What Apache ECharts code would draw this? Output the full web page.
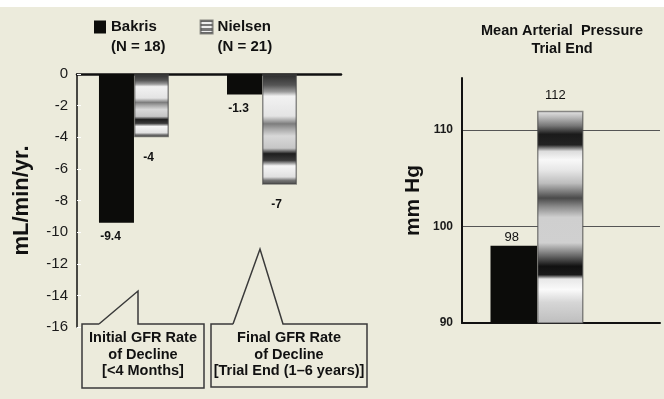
<!DOCTYPE html>
<html><head><meta charset="utf-8">
<script src="https://cdn.jsdelivr.net/npm/echarts@6/dist/echarts.min.js"></script>
<style>html,body{margin:0;padding:0;background:#fff}#c{width:664px;height:399px}</style>
</head><body><div id="c"></div>
<script>
// ---- data ----
const seriesNames = ['Bakris', 'Nielsen'];
const sampleSizes = [18, 21];
const gfrGroups = ['Initial GFR Rate of Decline', 'Final GFR Rate of Decline'];
const bakrisGFR = [-9.4, -1.3];
const nielsenGFR = [-4, -7];
const mapGroups = ['Trial End'];
const bakrisMAP = [98];
const nielsenMAP = [112];
const gfrAxis = { min: -16, max: 0, interval: 2 };
const mapAxis = { min: 90, max: 115.4, interval: 10 };
const calloutLines = [
  ['Initial GFR Rate', 'of Decline', '[<4 Months]'],
  ['Final GFR Rate', 'of Decline', '[Trial End (1\u20136 years)]']
];

// ---- styles ----
const FONT = '"Liberation Sans", Arial, sans-serif';
const BG = '#ECEBDC';
function grad(stops) {
  return new echarts.graphic.LinearGradient(0, 0, 0, 1, stops.map(s => ({ offset: s[0], color: s[1] })));
}
const metalLeft = grad([[0,'#2a2a2a'],[0.1,'#555'],[0.16,'#9a9a9a'],[0.2,'#f2f2f2'],[0.38,'#e4e4e4'],[0.45,'#7d7d7d'],[0.5,'#aaa'],[0.56,'#d8d8d8'],[0.67,'#c6c6c6'],[0.72,'#1e1e1e'],[0.78,'#3a3a3a'],[0.83,'#f6f6f6'],[0.93,'#e0e0e0'],[0.96,'#777'],[1,'#444']]);
const metalRight = grad([[0,'#e8e8e8'],[0.03,'#bbb'],[0.07,'#777'],[0.11,'#1a1a1a'],[0.16,'#222'],[0.19,'#dcdcdc'],[0.23,'#f8f8f8'],[0.28,'#e6e6e6'],[0.34,'#bdbdbd'],[0.41,'#4a4a4a'],[0.45,'#8a8a8a'],[0.5,'#cfcfcf'],[0.62,'#d0d0d0'],[0.68,'#6a6a6a'],[0.73,'#111'],[0.77,'#1a1a1a'],[0.79,'#e8e8e8'],[0.84,'#fafafa'],[0.9,'#d6d6d6'],[1,'#bdbdbd']]);
const stripes = grad([[0,'#777'],[0.18,'#777'],[0.18,'#eee'],[0.28,'#eee'],[0.28,'#777'],[0.46,'#777'],[0.46,'#eee'],[0.56,'#eee'],[0.56,'#777'],[0.74,'#777'],[0.74,'#eee'],[0.84,'#eee'],[0.84,'#777'],[1,'#777']]);
const BLACK = '#0c0c0a';

const chart = echarts.init(document.getElementById('c'), null, { renderer: 'canvas' });

const option = {
  backgroundColor: BG,
  textStyle: { fontFamily: FONT },
  animation: false,
  title: {
    text: 'Mean Arterial  Pressure\nTrial End',
    left: 562, top: 22, padding: 0, textAlign: 'center',
    textStyle: { fontFamily: FONT, fontSize: 14.5, fontWeight: 'bold', color: '#111', lineHeight: 18 }
  },
  legend: {
    data: [
      { name: seriesNames[0], itemStyle: { color: BLACK } },
      { name: seriesNames[1], itemStyle: { color: stripes } }
    ],
    left: 94, top: -3, padding: 0, itemGap: 34, itemWidth: 12, itemHeight: 13, icon: 'rect',
    formatter: name => '\n' + name + '\n(N = ' + sampleSizes[seriesNames.indexOf(name)] + ')',
    textStyle: { fontFamily: FONT, fontSize: 15, fontWeight: 'bold', color: '#111', lineHeight: 20 }
  },
  grid: [
    { left: 77, top: 74, width: 264, height: 253 },
    { left: 462, top: 78, width: 198, height: 245 }
  ],
  xAxis: [
    { gridIndex: 0, type: 'value', position: 'top', min: -0.445, max: 1.617,
      axisLine: { show: true, onZero: true, lineStyle: { color: '#111', width: 2.5 } },
      axisTick: { show: false }, axisLabel: { show: false }, splitLine: { show: false } },
    { gridIndex: 1, type: 'value', min: -1, max: 1.64,
      axisLine: { show: true, onZero: false, lineStyle: { color: '#111', width: 2 } },
      axisTick: { show: false }, axisLabel: { show: false }, splitLine: { show: false } }
  ],
  yAxis: [
    { gridIndex: 0, type: 'value', min: gfrAxis.min, max: gfrAxis.max, interval: gfrAxis.interval,
      name: 'mL/min/yr.', nameLocation: 'middle', nameGap: 44,
      nameTextStyle: { fontFamily: FONT, fontSize: 22, fontWeight: 'bold', color: '#111' },
      axisLine: { show: true, onZero: false, lineStyle: { color: '#111', width: 1.5 } },
      axisTick: { show: true, inside: true, length: 4, lineStyle: { color: '#fff', width: 1 } },
      axisLabel: { margin: 9, fontFamily: FONT, fontSize: 15, color: '#1a1a1a' },
      splitLine: { show: false } },
    { gridIndex: 1, type: 'value', min: mapAxis.min, max: mapAxis.max, interval: mapAxis.interval,
      name: 'mm Hg', nameLocation: 'middle', nameGap: 38,
      nameTextStyle: { fontFamily: FONT, fontSize: 21, fontWeight: 'bold', color: '#111' },
      axisLine: { show: true, onZero: false, lineStyle: { color: '#111', width: 2 } },
      axisTick: { show: false },
      axisLabel: { margin: 9, fontFamily: FONT, fontSize: 12, fontWeight: 'bold', color: '#1a1a1a', showMaxLabel: false },
      splitLine: { show: true, showMinLine: false, showMaxLine: false, lineStyle: { color: '#555', width: 1 } } }
  ],
  series: [
    { name: seriesNames[0], type: 'bar', xAxisIndex: 0, yAxisIndex: 0, barWidth: 35, barGap: '0%',
      data: bakrisGFR.map((v, i) => [i, v]),
      itemStyle: { color: BLACK },
      label: { show: true, position: 'bottom', distance: 8, offset: [-6, 0], formatter: p => p.value[1],
        fontFamily: FONT, fontSize: 12, fontWeight: 'bold', color: '#111' } },
    { name: seriesNames[1], type: 'bar', xAxisIndex: 0, yAxisIndex: 0, barWidth: 35, barGap: '0%',
      data: nielsenGFR.map((v, i) => [i, v]),
      itemStyle: { color: metalLeft, borderColor: 'rgba(70,70,70,0.6)', borderWidth: 1.5 },
      label: { show: true, position: 'bottom', distance: 14, offset: [-3, 0], formatter: p => p.value[1],
        fontFamily: FONT, fontSize: 12, fontWeight: 'bold', color: '#111' } },
    { name: seriesNames[0], type: 'bar', xAxisIndex: 1, yAxisIndex: 1, barWidth: 46.5, barGap: '0%',
      data: bakrisMAP.map((v, i) => [i, v]),
      itemStyle: { color: BLACK },
      label: { show: true, position: 'top', distance: 2, offset: [-2, 0], formatter: p => p.value[1],
        fontFamily: FONT, fontSize: 13, color: '#111' } },
    { name: seriesNames[1], type: 'bar', xAxisIndex: 1, yAxisIndex: 1, barWidth: 46.5, barGap: '0%',
      data: nielsenMAP.map((v, i) => [i, v]),
      itemStyle: { color: metalRight, borderColor: 'rgba(70,70,70,0.6)', borderWidth: 1.5 },
      label: { show: true, position: 'top', distance: 9, offset: [-5, 0], formatter: p => p.value[1],
        fontFamily: FONT, fontSize: 13, color: '#111' } }
  ],
  graphic: [
    { type: 'rect', left: 0, top: 0, shape: { width: 664, height: 7 }, style: { fill: '#fff' }, silent: true },
    { type: 'polyline', shape: { points: [[99,324],[138,291],[138,324],[204,324],[204,388],[82,388],[82,324],[99,324]] },
      style: { stroke: '#3a3a3a', lineWidth: 1.5, fill: null }, silent: true },
    { type: 'polyline', shape: { points: [[233,324],[260,249],[283,324],[367,324],[367,387],[211,387],[211,324],[233,324]] },
      style: { stroke: '#3a3a3a', lineWidth: 1.5, fill: null }, silent: true },
    { type: 'text', x: 143, y: 330, style: { text: calloutLines[0].join('\n'), textAlign: 'center', lineHeight: 16.5,
      font: 'bold 14.5px ' + FONT, fill: '#111' }, silent: true },
    { type: 'text', x: 289, y: 330, style: { text: calloutLines[1].join('\n'), textAlign: 'center', lineHeight: 16.5,
      font: 'bold 14.5px ' + FONT, fill: '#111' }, silent: true }
  ]
};
chart.setOption(option);
</script>
</body></html>
